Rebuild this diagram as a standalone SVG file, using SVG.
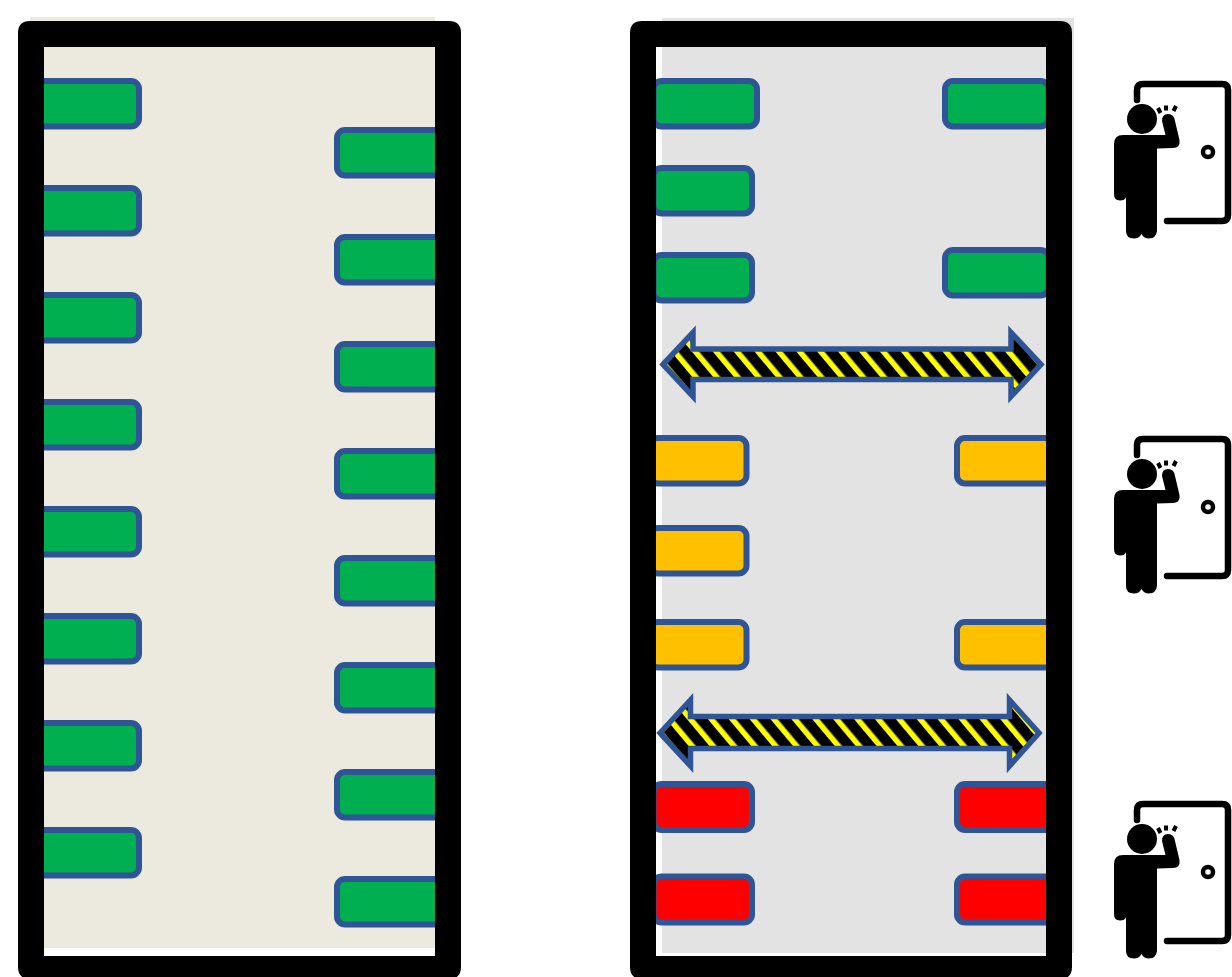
<svg xmlns="http://www.w3.org/2000/svg" xmlns:xlink="http://www.w3.org/1999/xlink" width="1232" height="977" viewBox="0 0 1232 977">
<style>
.s{stroke:#2F5597;stroke-width:6}
.g{fill:#00B050}.a{fill:#FFC000}.r{fill:#FF0000}
.f{fill:#000;fill-rule:evenodd}
.ar{fill:url(#hz);stroke:#2F5597;stroke-width:5.5;stroke-linejoin:miter}
</style>
<defs>
<pattern id="hz" width="16" height="16" patternUnits="userSpaceOnUse" patternTransform="rotate(-40)">
<rect width="16" height="16" fill="#000"/>
<rect width="5.5" height="16" fill="#FFFF00"/>
</pattern>
<g id="knock">
<path d="M1137 100V90Q1137 84 1143 84H1222Q1228 84 1228 90V215Q1228 221 1222 221H1167" fill="none" stroke="#000" stroke-width="6.500" stroke-linecap="round"/>
<circle cx="1142" cy="119" r="15" fill="#000"/>
<circle cx="1208" cy="152" r="5" fill="none" stroke="#000" stroke-width="4.500"/>
<path d="M1158 108l2.500 5M1166 105.500v5M1176 106l-2.500 5" stroke="#000" stroke-width="4" stroke-linecap="butt" fill="none"/>
<path d="M1114 144Q1114 135 1123 135H1165.500L1162 121Q1162 114 1168 114Q1174 114 1175 121L1179.500 140Q1180.500 148 1173 148L1157 148.500V231Q1156 238.500 1149 238.500Q1144 238.500 1141.500 234Q1139 238.500 1134 238.500Q1126 238.500 1126 231V197Q1125 200.500 1120 200.500Q1114 200.500 1114 194Z" fill="#000"/>
</g>
</defs>
<g id="panel-left">
<rect x="30" y="17" width="405" height="931" fill="#ECE9DF"/>
<rect class="s g" x="30" y="81" width="109" height="45.500" rx="8"/>
<rect class="s g" x="30" y="188" width="109" height="45.500" rx="8"/>
<rect class="s g" x="30" y="295" width="109" height="45.500" rx="8"/>
<rect class="s g" x="30" y="402" width="109" height="45.500" rx="8"/>
<rect class="s g" x="30" y="509" width="109" height="45.500" rx="8"/>
<rect class="s g" x="30" y="616" width="109" height="45.500" rx="8"/>
<rect class="s g" x="30" y="723" width="109" height="45.500" rx="8"/>
<rect class="s g" x="30" y="830" width="109" height="45.500" rx="8"/>
<rect class="s g" x="337" y="130" width="110" height="45.500" rx="8"/>
<rect class="s g" x="337" y="237" width="110" height="45.500" rx="8"/>
<rect class="s g" x="337" y="344" width="110" height="45.500" rx="8"/>
<rect class="s g" x="337" y="451" width="110" height="45.500" rx="8"/>
<rect class="s g" x="337" y="558" width="110" height="45.500" rx="8"/>
<rect class="s g" x="337" y="665" width="110" height="45.500" rx="8"/>
<rect class="s g" x="337" y="772" width="110" height="45.500" rx="8"/>
<rect class="s g" x="337" y="879" width="110" height="45.500" rx="8"/>
<path class="f" d="M30 21H449Q461 21 461 33V967Q461 979 449 979H30Q18 979 18 967V33Q18 21 30 21ZM44 47V956H435V47Z"/>
</g>
<g id="panel-right">
<rect x="662" y="18" width="412" height="935" fill="#E3E3E3"/>
<rect class="s g" x="653.500" y="81" width="103.500" height="45.500" rx="8"/>
<rect class="s g" x="653.500" y="168" width="98.500" height="45.500" rx="8"/>
<rect class="s g" x="653.500" y="255" width="98.500" height="45.500" rx="8"/>
<rect class="s g" x="945" y="81" width="103.500" height="45.500" rx="8"/>
<rect class="s g" x="945" y="250" width="103.500" height="45.500" rx="8"/>
<rect class="s a" x="650" y="438" width="96.500" height="45.500" rx="8"/>
<rect class="s a" x="650" y="528" width="96.500" height="45.500" rx="8"/>
<rect class="s a" x="650" y="622" width="96.500" height="45.500" rx="8"/>
<rect class="s a" x="957" y="438" width="100" height="45.500" rx="8"/>
<rect class="s a" x="957" y="622" width="100" height="45.500" rx="8"/>
<rect class="s r" x="653.500" y="784" width="98.500" height="46" rx="8"/>
<rect class="s r" x="653.500" y="876.500" width="98.500" height="46" rx="8"/>
<rect class="s r" x="957" y="784" width="100" height="46" rx="8"/>
<rect class="s r" x="957" y="876.500" width="100" height="46" rx="8"/>
<path class="f" d="M642 21H1060Q1072 21 1072 33V967Q1072 979 1060 979H642Q630 979 630 967V33Q630 21 642 21ZM656 47V956H1046V47Z"/>
</g>
<g id="connectors">
<path class="ar" d="M663 364.500L693 332.500V349H1011V332.500L1041 364.500L1011 396.500V379.500H693V396.500Z"/>
<path class="ar" d="M660 733L690.500 700V716.500H1009.500V700L1039 733L1009.500 766V748.500H690.500V766Z"/>
</g>
<g id="person-door-1"><use href="#knock"/></g>
<g id="person-door-2"><use href="#knock" y="355"/></g>
<g id="person-door-3"><use href="#knock" y="720"/></g>
</svg>
